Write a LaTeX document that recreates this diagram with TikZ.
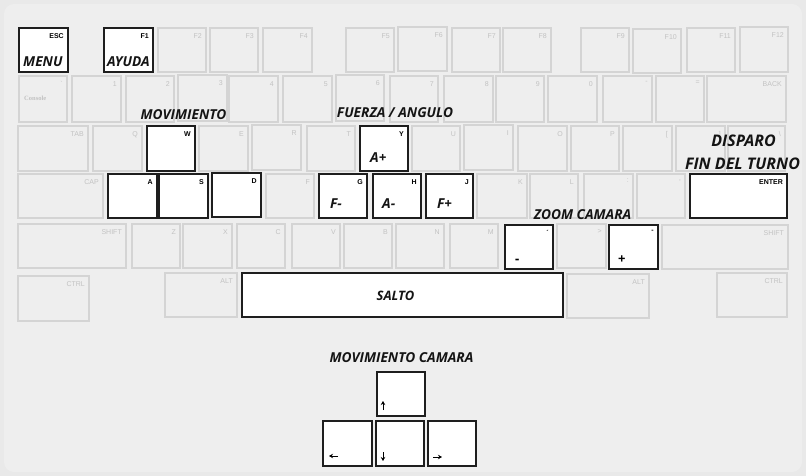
\documentclass[tikz,border=0pt]{standalone}
\usepackage{fontspec}
\setmainfont{Liberation Sans}
\newfontfamily\lab{Open Sans}
\newfontfamily\keyf{Liberation Sans}
\newfontfamily\consf{Liberation Serif}
\usetikzlibrary{arrows.meta}
\definecolor{bgc}{RGB}{238,238,238}
\definecolor{bgtop}{RGB}{248,248,248}
\definecolor{outerc}{RGB}{233,233,233}
\definecolor{fline}{RGB}{212,212,212}
\definecolor{flab}{RGB}{194,194,194}
\definecolor{hline}{RGB}{30,30,30}
\definecolor{labc}{RGB}{20,20,20}
\pgfdeclareverticalshading{kbbg}{100bp}{color(0bp)=(bgc); color(90bp)=(bgc); color(100bp)=(bgtop)}
\tikzset{
  faint/.style={draw=fline, line width=1.7pt, inner sep=0pt, outer sep=0pt, rectangle},
  hot/.style={draw=hline, fill=white, line width=1.6pt, inner sep=0pt, outer sep=0pt, rectangle},
  faintlab/.style={text=flab, font=\keyf\fontsize{7}{8}\selectfont, inner sep=0pt},
  hotlab/.style={text=black, font=\keyf\bfseries\fontsize{7}{8}\selectfont, inner sep=0pt},
  big/.style={text=labc, font=\lab\bfseries\itshape\fontsize{13.7}{15}\selectfont, inner sep=0pt},
  bigger/.style={text=labc, font=\lab\bfseries\itshape\fontsize{16}{18}\selectfont, inner sep=0pt},
  sign/.style={font=\lab\bfseries\fontsize{13}{15}\selectfont, inner sep=0pt},
  arr/.style={-{Stealth[length=4pt,width=4.5pt]}, line width=0.7pt, black},
}
% \K[style]{name}{x1}{y1}{x2}{y2}{label}
\newcommand\K[7][faint]{%
  \node[#1, anchor=north west, minimum width={(#5-#3)*1pt}, minimum height={(#6-#4)*1pt}] (#2) at (#3,#4) {};
  \node[#1lab, anchor=north east] (#2-l) at ([xshift=-4pt,yshift=-5pt]#2.north east) {#7};
}
\begin{document}
\begin{tikzpicture}[x=1pt,y=-1pt]
\useasboundingbox (0,0) rectangle (806,476);
\fill[outerc] (0,0) rectangle (806,476);
\shade[shading=kbbg, rounded corners=10pt] (4,4) rectangle (802,472);

% row 1
\K[hot]{esc}{19}{28}{68}{72}{ESC}
\K[hot]{f1}{104}{28}{153}{72}{F1}
\K{f2}{158}{28}{206}{72}{F2}
\K{f3}{210}{28}{258}{72}{F3}
\K{f4}{263}{28}{312}{72}{F4}
\K{f5}{346}{28}{394}{72}{F5}
\K{f6}{398}{27}{447}{71}{F6}
\K{f7}{452}{28}{500}{72}{F7}
\K{f8}{503}{28}{551}{72}{F8}
\K{f9}{581}{28}{629}{72}{F9}
\K{f10}{633}{29}{681}{73}{F10}
\K{f11}{687}{28}{735}{72}{F11}
\K{f12}{740}{27}{788}{72}{F12}

% row 2
\K{grave}{19}{76}{67}{122}{\symbol{96}}
\K{k1}{72}{76}{121}{122}{1}
\K{k2}{126}{76}{174}{122}{2}
\K{k3}{178}{75}{227}{121}{3}
\K{k4}{229}{76}{278}{122}{4}
\K{k5}{283}{76}{332}{122}{5}
\K{k6}{336}{75}{384}{121}{6}
\K{k7}{390}{76}{438}{122}{7}
\K{k8}{444}{76}{493}{122}{8}
\K{k9}{496}{76}{544}{122}{9}
\K{k0}{548}{76}{597}{122}{0}
\K{kminus}{603}{76}{652}{122}{-}
\K{kequal}{656}{76}{704}{122}{=}
\K{back}{707}{76}{786}{122}{BACK}
\node[text=flab, font=\consf\bfseries\fontsize{6.5}{7}\selectfont, inner sep=0pt, anchor=west] (console) at (24,98) {Console};

% row 3
\K{tab}{18}{126}{88}{171}{TAB}
\K{q}{93}{126}{142}{171}{Q}
\K[hot]{w}{147}{126}{195}{171}{W}
\K{e}{199}{126}{248}{171}{E}
\K{r}{252}{125}{301}{170}{R}
\K{t}{307}{126}{355}{171}{T}
\K[hot]{y}{360}{126}{408}{171}{Y}
\K{u}{412}{126}{460}{171}{U}
\K{i}{464}{125}{513}{170}{I}
\K{o}{518}{126}{567}{171}{O}
\K{p}{571}{126}{619}{171}{P}
\K{lbr}{623}{126}{672}{171}{[}
\K{rbr}{676}{126}{725}{171}{]}
\K{bsl}{728}{126}{785}{171}{\textbackslash}

% row 4
\K{cap}{18}{174}{103}{218}{CAP}
\K[hot]{a}{108}{174}{157}{218}{A}
\K[hot]{s}{159}{174}{208}{218}{S}
\K[hot]{d}{212}{173}{261}{217}{D}
\K{f}{266}{174}{314}{218}{F}
\K[hot]{g}{319}{174}{367}{218}{G}
\K[hot]{h}{373}{174}{421}{218}{H}
\K[hot]{j}{426}{174}{473}{218}{J}
\K{kk}{477}{174}{527}{218}{K}
\K{l}{530}{174}{578}{218}{L}
\K{semi}{584}{174}{633}{218}{:}
\K{quote}{637}{174}{685}{218}{'}
\K[hot]{enter}{690}{174}{787}{218}{ENTER}

% row 5
\K{lshift}{18}{224}{126}{268}{SHIFT}
\K{z}{132}{224}{180}{268}{Z}
\K{x}{183}{224}{232}{268}{X}
\K{c}{237}{224}{285}{268}{C}
\K{v}{292}{224}{340}{268}{V}
\K{b}{344}{224}{392}{268}{B}
\K{n}{396}{224}{444}{268}{N}
\K{m}{450}{224}{498}{268}{M}
\K[hot]{comma}{505}{225}{553}{269}{´}
\K{period}{557}{224}{606}{268}{>}
\K[hot]{dash}{609}{225}{658}{269}{-}
\K{rshift}{662}{225}{788}{269}{SHIFT}

% row 6
\K{lctrl}{18}{276}{89}{321}{CTRL}
\K{lalt}{165}{273}{237}{317}{ALT}
\K[hot]{space}{242}{273}{563}{317}{}
\K{ralt}{567}{274}{649}{318}{ALT}
\K{rctrl}{717}{273}{787}{317}{CTRL}

% camera keys
\K[hot]{up}{377}{372}{425}{416}{}
\K[hot]{left}{323}{421}{372}{466}{}
\K[hot]{down}{376}{421}{424}{466}{}
\K[hot]{right}{428}{421}{476}{466}{}

% labels in keys
\node[big, anchor=base west] (menu) at ([shift={(4pt,5pt)}]esc.south west) {MENU};
\node[big, anchor=base west] (ayuda) at ([shift={(3pt,5pt)}]f1.south west) {AYUDA};
\node[big, anchor=base west] (aplus) at ([shift={(10pt,8pt)}]y.south west) {A+};
\node[big, anchor=base west] (fminus) at ([shift={(11pt,10pt)}]g.south west) {F-};
\node[big, anchor=base west] (aminus) at ([shift={(9pt,10pt)}]h.south west) {A-};
\node[big, anchor=base west] (fplus) at ([shift={(11pt,10pt)}]j.south west) {F+};
\node[sign, anchor=base west] (zminus) at ([shift={(10pt,6pt)}]comma.south west) {-};
\node[sign, anchor=base west] (zplus) at ([shift={(9pt,6pt)}]dash.south west) {+};
\node[big, font=\lab\bfseries\itshape\fontsize{13}{15}\selectfont, anchor=base] (salto) at (395.5,300.5) {SALTO};

% headings
\node[big, anchor=base] (hmov) at (183.5,120) {MOVIMIENTO};
\node[big, anchor=base] (hfa) at (395,118) {FUERZA / ANGULO};
\node[bigger, anchor=base] (hdisp) at (743.5,146.5) {DISPARO};
\node[bigger, anchor=base] (hfin) at (742.5,170) {FIN DEL TURNO};
\node[big, anchor=base] (hzoom) at (582.5,219) {ZOOM CAMARA};
\node[big, anchor=base] (hcam) at (401.5,362.5) {MOVIMIENTO CAMARA};

% arrows
\draw[arr] ([shift={(6pt,6pt)}]up.south west) -- ++(0pt,9pt);
\draw[arr] ([shift={(15pt,10pt)}]left.south west) -- ++(-9pt,0pt);
\draw[arr] ([shift={(7pt,14pt)}]down.south west) -- ++(0pt,-9pt);
\draw[arr] ([shift={(5pt,9pt)}]right.south west) -- ++(9pt,0pt);
\end{tikzpicture}
\end{document}
